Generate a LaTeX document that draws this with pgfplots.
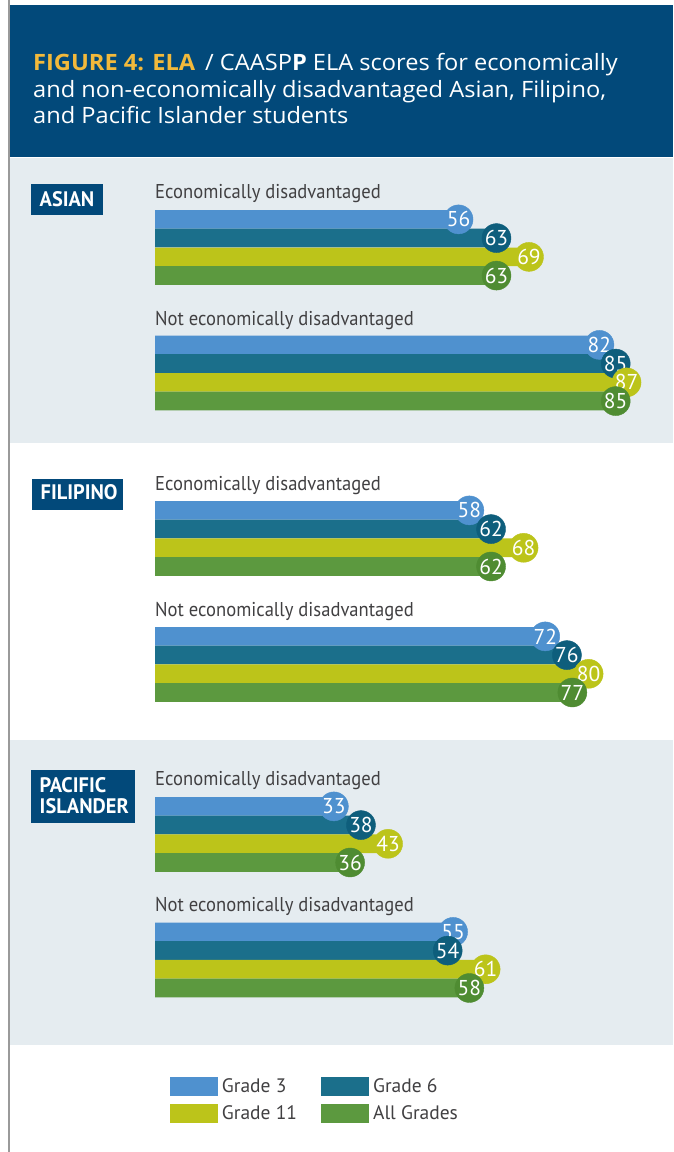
\documentclass[border=0pt]{standalone}
\usepackage{fontspec}
\setmainfont{PT Sans}
\newfontfamily\condfont[FakeStretch=0.93]{PT Sans}
\newfontfamily\boxfont[FakeStretch=0.97]{PT Sans}
\newfontfamily\titlefont[FakeStretch=1.05]{Open Sans}
\usepackage{pgfplots}
\pgfplotsset{compat=1.18}
\definecolor{hdr}{HTML}{02497A}
\definecolor{gold}{HTML}{F2B93B}
\definecolor{panel}{HTML}{E5ECF0}
\definecolor{gthree}{HTML}{4F91CF}
\definecolor{gsix}{HTML}{1B6F8B}
\definecolor{geleven}{HTML}{BCC41A}
\definecolor{gall}{HTML}{5C993F}
\definecolor{gsixdk}{HTML}{0E5E7C}
\definecolor{galldk}{HTML}{4F8C32}
\definecolor{txt}{HTML}{414042}
\definecolor{bord}{HTML}{9A9A9A}
\pgfplotsset{
  mybar/.style={xbar, bar width=18.7pt, bar shift=0pt, draw=none,
    legend image code/.code={\fill[##1] (0pt,-9.5pt) rectangle (48pt,9.5pt);}},
  lbl/.style={only marks, mark=*, mark size=14.5pt, forget plot,
    nodes near coords,
    nodes near coords style={anchor=center, text=white, inner sep=0pt,
      font=\fontsize{21.5}{21.5}\selectfont}},
}
\begin{document}
\begin{tikzpicture}[x=1pt,y=1pt]
\useasboundingbox (0,0) rectangle (673,1152);
\fill[white] (0,0) rectangle (673,1152);
\fill[hdr] (9,1147) rectangle (673,995);
\fill[panel] (9,994) rectangle (673,709);
\fill[panel] (9,412) rectangle (673,107);
\draw[bord, line width=1.5pt] (9,0) -- (9,1152);
% title
\begin{scope}[every node/.style={anchor=base west, inner sep=0pt, text=white, font=\titlefont\fontsize{22.5}{24}\selectfont}]
\node at (33,1081.3) {\textcolor{gold}{\bfseries FIGURE 4: ELA}\hspace{10pt}/ CAASP\textbf{P} ELA scores for economically};
\node at (33,1054.7) {and non-economically disadvantaged Asian, Filipino,};
\node at (33,1028) {and Pacific Islander students};
\end{scope}
% category boxes
\fill[hdr] (31,968) rectangle (103,937);
\fill[hdr] (32,673) rectangle (123,642);
\fill[hdr] (31,382) rectangle (135,329.3);
\begin{scope}[every node/.style={anchor=base west, inner sep=0pt, text=white, font=\boxfont\bfseries\fontsize{21}{21}\selectfont}]
\node at (39.5,945) {ASIAN};
\node at (40.5,652) {FILIPINO};
\node at (39.5,359.5) {PACIFIC};
\node at (39.5,338) {ISLANDER};
\end{scope}
% group labels
\begin{scope}[every node/.style={anchor=base west, inner sep=0pt, text=txt, font=\condfont\fontsize{20}{20}\selectfont}]
\node at (155,953) {Economically disadvantaged};
\node at (155,826.5) {Not economically disadvantaged};
\node at (155,661.7) {Economically disadvantaged};
\node at (155,535.7) {Not economically disadvantaged};
\node at (155,366) {Economically disadvantaged};
\node at (155,240) {Not economically disadvantaged};
\end{scope}
\begin{axis}[at={(0,0)}, anchor=south west, scale only axis,
  width=673pt, height=1152pt,
  xmin=-28.598, xmax=95.57, ymin=0, ymax=1152,
  enlargelimits=false, hide axis, clip=false,
  point meta=x,
  /pgf/number format/assume math mode=true,
  legend columns=2,
  legend cell align=left,
  legend style={at={(0.2526,0.0651)}, anchor=north west, draw=none, fill=none,
    inner sep=0pt, outer sep=0pt,
    font=\fontsize{19.5}{20}\selectfont, text=txt,
    nodes={inner xsep=4pt, inner ysep=0pt},
    /tikz/every even column/.append style={column sep=20pt},
    row sep=8pt},
]
\addplot[mybar, fill=gthree] coordinates {(56,932.6) (82,807.1) (58,641.6) (72,515.6) (33,345.6) (55,220.1)};
\addlegendentry{Grade 3}
\addplot[mybar, fill=gsix] coordinates {(63,913.9) (85,788.4) (62,622.9) (76,496.9) (38,326.9) (54,201.4)};
\addlegendentry{Grade 6}
\addplot[mybar, fill=geleven] coordinates {(69,895.1) (87,769.6) (68,604.2) (80,478.2) (43,308.2) (61,182.7)};
\addlegendentry{Grade 11}
\addplot[mybar, fill=gall] coordinates {(63,876.4) (85,750.9) (62,585.5) (77,459.5) (36,289.5) (58,164.0)};
\addlegendentry{All Grades}
\addplot[lbl, gthree] coordinates {(56,932.6) (82,807.1) (58,641.6) (72,515.6) (33,345.6) (55,220.1)};
\addplot[lbl, gsixdk] coordinates {(63,913.9) (85,788.4) (62,622.9) (76,496.9) (38,326.9) (54,201.4)};
\addplot[lbl, geleven] coordinates {(69,895.1) (87,769.6) (68,604.2) (80,478.2) (43,308.2) (61,182.7)};
\addplot[lbl, galldk] coordinates {(63,876.4) (85,750.9) (62,585.5) (77,459.5) (36,289.5) (58,164.0)};
\end{axis}
\end{tikzpicture}
\end{document}
